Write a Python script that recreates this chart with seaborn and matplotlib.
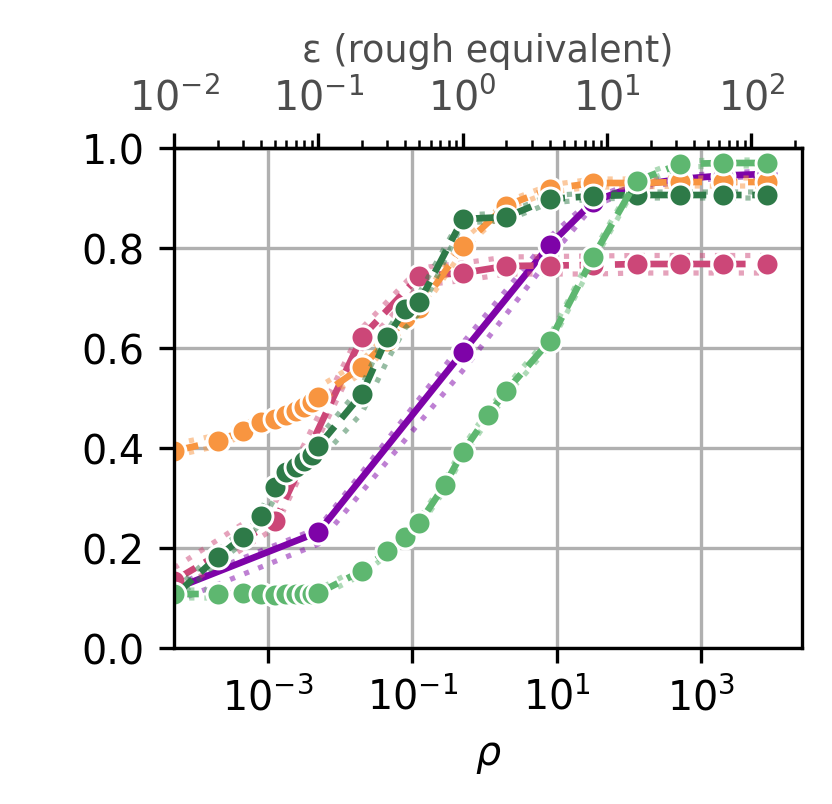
import numpy as np
import pandas as pd
import matplotlib
matplotlib.use("Agg")
import matplotlib.pyplot as plt
import seaborn as sns
from matplotlib.ticker import FixedLocator, NullLocator, LogLocator

# ---------------- data (epsilon grid -> rho = eps^2 / 2) ----------------
eps_purple = [0.01, 0.1, 1, 4, 8, 16, 32, 64, 128]
acc_purple = [0.118, 0.232, 0.592, 0.806, 0.893, 0.925, 0.938, 0.945, 0.948]
lo_purple = [0.092, 0.208, 0.555, 0.780, 0.884, 0.919, 0.932, 0.940, 0.944]
hi_purple = [0.125, 0.240, 0.610, 0.822, 0.900, 0.932, 0.944, 0.950, 0.954]

eps_pink = [0.01, 0.05, 0.2, 0.5, 1, 2, 4, 8, 16, 32, 64, 128]
acc_pink = [0.135, 0.254, 0.622, 0.744, 0.750, 0.764, 0.765, 0.766, 0.768, 0.768, 0.768, 0.768]
lo_pink = [0.110, 0.240, 0.600, 0.725, 0.735, 0.748, 0.748, 0.748, 0.750, 0.750, 0.750, 0.750]
hi_pink = [0.160, 0.290, 0.640, 0.760, 0.770, 0.782, 0.783, 0.784, 0.785, 0.785, 0.785, 0.785]

eps_fine = [0.01, 0.02, 0.03, 0.04, 0.05, 0.06, 0.07, 0.08, 0.09, 0.1,
            0.2, 0.3, 0.4, 0.5, 1, 2, 4, 8, 16, 32, 64, 128]
acc_orange = [0.394, 0.414, 0.434, 0.452, 0.458, 0.466, 0.474, 0.482, 0.492, 0.502,
              0.562, 0.615, 0.660, 0.680, 0.804, 0.885, 0.918, 0.930, 0.930, 0.932, 0.932, 0.932]
lo_orange = [0.384, 0.404, 0.424, 0.442, 0.448, 0.456, 0.464, 0.472, 0.480, 0.490,
             0.550, 0.600, 0.645, 0.668, 0.795, 0.878, 0.912, 0.922, 0.922, 0.924, 0.924, 0.924]
hi_orange = [0.408, 0.426, 0.446, 0.464, 0.472, 0.480, 0.490, 0.500, 0.510, 0.522,
             0.575, 0.628, 0.672, 0.692, 0.815, 0.893, 0.926, 0.938, 0.938, 0.940, 0.940, 0.940]

acc_dgreen = [0.104, 0.182, 0.222, 0.264, 0.322, 0.352, 0.362, 0.374, 0.386, 0.404,
              0.508, 0.622, 0.678, 0.692, 0.858, 0.862, 0.898, 0.904, 0.906, 0.906, 0.906, 0.906]
lo_dgreen = [0.095, 0.170, 0.210, 0.250, 0.300, 0.330, 0.340, 0.350, 0.360, 0.375,
             0.470, 0.575, 0.640, 0.670, 0.850, 0.855, 0.890, 0.898, 0.900, 0.900, 0.900, 0.900]
hi_dgreen = [0.115, 0.195, 0.235, 0.275, 0.335, 0.365, 0.375, 0.385, 0.400, 0.420,
             0.525, 0.635, 0.690, 0.710, 0.866, 0.870, 0.905, 0.910, 0.912, 0.912, 0.912, 0.912]

eps_lgreen = [0.01, 0.02, 0.03, 0.04, 0.05, 0.06, 0.07, 0.08, 0.09, 0.1,
              0.2, 0.3, 0.4, 0.5, 0.75, 1, 1.5, 2, 4, 8, 16, 32, 64, 128]
acc_lgreen = [0.108, 0.108, 0.110, 0.108, 0.107, 0.108, 0.108, 0.108, 0.108, 0.110,
              0.154, 0.194, 0.222, 0.250, 0.326, 0.392, 0.466, 0.514, 0.614, 0.782,
              0.934, 0.968, 0.970, 0.970]
lo_lgreen = [0.100, 0.100, 0.102, 0.100, 0.100, 0.100, 0.100, 0.100, 0.100, 0.102,
             0.146, 0.186, 0.214, 0.242, 0.316, 0.382, 0.456, 0.505, 0.604, 0.772,
             0.926, 0.962, 0.964, 0.964]
hi_lgreen = [0.116, 0.116, 0.118, 0.116, 0.115, 0.116, 0.116, 0.116, 0.116, 0.118,
             0.162, 0.202, 0.230, 0.258, 0.336, 0.402, 0.476, 0.523, 0.624, 0.792,
             0.942, 0.974, 0.976, 0.976]

yticks = [0.0, 0.2, 0.4, 0.6, 0.8, 1.0]
rho_ticks = [1e-3, 1e-1, 1e1, 1e3]
eps_ticks = [1e-2, 1e-1, 1e0, 1e1, 1e2]

series = [
    ("purple", "#7E03A8", "-", eps_purple, acc_purple, lo_purple, hi_purple),
    ("pink", "#CC4778", "--", eps_pink, acc_pink, lo_pink, hi_pink),
    ("orange", "#F89540", "--", eps_fine, acc_orange, lo_orange, hi_orange),
    ("dgreen", "#2E7A48", "--", eps_fine, acc_dgreen, lo_dgreen, hi_dgreen),
    ("lgreen", "#5EB770", "--", eps_lgreen, acc_lgreen, lo_lgreen, hi_lgreen),
]

plt.rcParams.update({
    "font.size": 9.5,
    "axes.linewidth": 0.8,
    "grid.color": "#b0b0b0",
    "grid.linewidth": 0.8,
})

fig = plt.figure(figsize=(832 / 300, 805 / 300), dpi=300)
ax = fig.add_axes([174 / 832, 1 - 649 / 805, (802 - 174) / 832, (649 - 149) / 805])

for name, col, ls, eps, acc, lo, hi in series:
    e = np.asarray(eps, dtype=float)
    rho = e ** 2 / 2
    df = pd.DataFrame({"rho": rho, "acc": acc, "lo": lo, "hi": hi})
    sns.lineplot(data=df, x="rho", y="lo", ax=ax, color=col, linestyle=(0, (1, 1.9)),
                 linewidth=1.25, alpha=0.5, estimator=None, sort=False)
    sns.lineplot(data=df, x="rho", y="hi", ax=ax, color=col, linestyle=(0, (1, 1.9)),
                 linewidth=1.25, alpha=0.5, estimator=None, sort=False)
    sns.lineplot(data=df, x="rho", y="acc", ax=ax, color=col, linestyle=ls,
                 linewidth=1.6, marker="o", markersize=5.5, markeredgecolor="white",
                 markeredgewidth=0.7, estimator=None, sort=False)

ax.set_xscale("log")
lx0 = -3 - (268 - 174) / 72.17
lx1 = 3 + (802 - 701) / 72.17
ax.set_xlim(10 ** lx0, 10 ** lx1)
ax.set_ylim(0, 1)
ax.xaxis.set_major_locator(FixedLocator(rho_ticks))
ax.xaxis.set_minor_locator(NullLocator())
ax.set_yticks(yticks)
ax.set_yticklabels([f"{v:.1f}" for v in yticks])
ax.grid(True, which="major")
ax.set_axisbelow(True)
ax.set_xlabel(r"$\rho$")
ax.set_ylabel("")

def fwd(r):
    return np.sqrt(2 * np.asarray(r, dtype=float))

def inv(e):
    return np.asarray(e, dtype=float) ** 2 / 2

sec = ax.secondary_xaxis("top", functions=(fwd, inv))
sec.xaxis.set_major_locator(FixedLocator(eps_ticks))
sec.xaxis.set_minor_locator(LogLocator(base=10, subs=np.arange(2, 10), numticks=20))
sec.tick_params(axis="x", labelcolor="#4d4d4d")
sec.set_xlabel("ε (rough equivalent)", color="#4d4d4d", fontsize=8.8)

fig.savefig("out.png", dpi=300)
